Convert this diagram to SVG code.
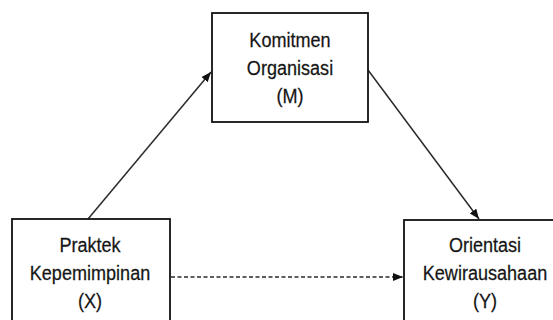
<svg xmlns="http://www.w3.org/2000/svg" width="553" height="320" viewBox="0 0 553 320">
  <style>
    .box { fill: #ffffff; stroke: #111111; stroke-width: 1.8; }
    .lbl { font-family: "Liberation Sans", Arial, sans-serif; font-size: 21px; fill: #151515; stroke: #151515; stroke-width: 0.25; text-anchor: middle; }
    .link { fill: none; stroke: #2a2a2a; stroke-width: 1.5; }
    .dash { stroke-dasharray: 4 2.5; }
  </style>
  <defs>
    <marker id="arrow" markerUnits="userSpaceOnUse" markerWidth="10" markerHeight="8" refX="10" refY="4" orient="auto">
      <path d="M0,0 L10,4 L0,8 z" fill="#111111"/>
    </marker>
  </defs>
  <rect width="553" height="320" fill="#ffffff"/>

  <g id="connectors">
    <line class="link" x1="88" y1="219" x2="211" y2="72" marker-end="url(#arrow)"/>
    <line class="link" x1="368" y1="70" x2="479" y2="219" marker-end="url(#arrow)"/>
    <line class="link dash" x1="171" y1="277" x2="403" y2="277" marker-end="url(#arrow)"/>
  </g>

  <g id="node-m">
    <rect class="box" x="212" y="13" width="156" height="109"/>
    <g transform="translate(290,0) scale(0.86,1)">
      <text class="lbl" x="0" y="47">Komitmen</text>
      <text class="lbl" x="0" y="75">Organisasi</text>
      <text class="lbl" x="0" y="103">(M)</text>
    </g>
  </g>

  <g id="node-x">
    <rect class="box" x="12" y="219" width="158" height="115"/>
    <g transform="translate(90,0) scale(0.86,1)">
      <text class="lbl" x="0" y="252">Praktek</text>
      <text class="lbl" x="0" y="280">Kepemimpinan</text>
      <text class="lbl" x="0" y="308">(X)</text>
    </g>
  </g>

  <g id="node-y">
    <rect class="box" x="404" y="220" width="165" height="115"/>
    <g transform="translate(485,0) scale(0.86,1)">
      <text class="lbl" x="0" y="252">Orientasi</text>
      <text class="lbl" x="0" y="280">Kewirausahaan</text>
      <text class="lbl" x="0" y="308">(Y)</text>
    </g>
  </g>
</svg>
